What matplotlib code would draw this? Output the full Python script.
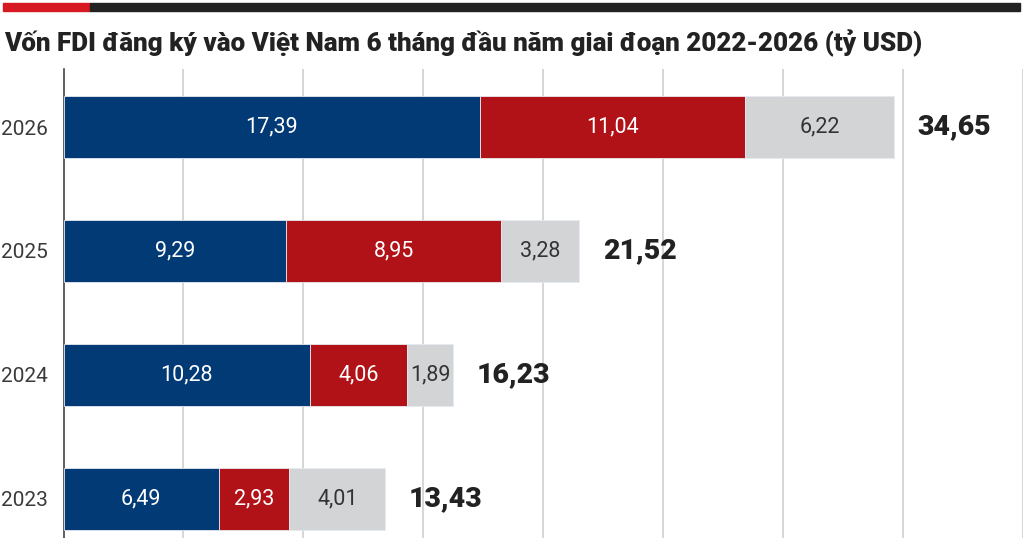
import matplotlib
matplotlib.use("Agg")
import matplotlib.pyplot as plt
from matplotlib.patches import Rectangle

# Dữ liệu (tỷ USD)
years = ["2026", "2025", "2024", "2023"]
new_capital = [17.39, 9.29, 10.28, 6.49]
adjusted_capital = [11.04, 8.95, 4.06, 2.93]
share_purchase = [6.22, 3.28, 1.89, 4.01]
totals = [34.65, 21.52, 16.23, 13.43]

title = "Vốn FDI đăng ký vào Việt Nam 6 tháng đầu năm giai đoạn 2022-2026 (tỷ USD)"

BLUE = "#023a75"
RED = "#b01218"
GREY = "#d3d4d6"
DARK = "#222222"

plt.rcParams["font.family"] = ["Roboto", "DejaVu Sans"]


def fmt(v):
    return f"{v:.2f}".replace(".", ",")


fig = plt.figure(figsize=(10.24, 5.38), dpi=100)

# thanh trang trí phía trên
fig.patches.append(Rectangle((3 / 1024, 1 - 11 / 538), 87 / 1024, 8 / 538,
                             transform=fig.transFigure, color="#d71a21", zorder=5))
fig.patches.append(Rectangle((90 / 1024, 1 - 11 / 538), 930 / 1024, 8 / 538,
                             transform=fig.transFigure, color=DARK, zorder=5))

fig.text(4 / 1024, 1 - 43 / 538, title, fontsize=18.7, fontweight="heavy",
         color=DARK, va="center", ha="left")

ax = fig.add_axes([63.5 / 1024, 0, (1023 - 63.5) / 1024, 1 - 69 / 538])

pos = [3, 2, 1, 0]
h = 0.5
segments = [(new_capital, BLUE, "white"),
            (adjusted_capital, RED, "white"),
            (share_purchase, GREY, "#333333")]

left = [0.0] * len(years)
for vals, col, tcol in segments:
    ax.barh(pos, vals, height=h, left=left, color=col, edgecolor="#e6e9f0",
            linewidth=0.6, zorder=3)
    for y, l, v in zip(pos, left, vals):
        ax.text(l + v / 2, y, fmt(v), ha="center", va="center",
                fontsize=15.5, color=tcol, zorder=4)
    left = [a + b for a, b in zip(left, vals)]

for y, t in zip(pos, totals):
    ax.annotate(fmt(t), (t, y), xytext=(17, 0), textcoords="offset points",
                ha="left", va="center", fontsize=20.5, fontweight="heavy",
                color=DARK)

ax.set_xlim(0, 40.02)
ax.set_ylim(-0.315, 3.468)
ax.set_yticks(pos)
ax.set_yticklabels(years, fontsize=15, color="#3a3a3a")
ax.set_xticks(range(5, 45, 5))
ax.set_xticklabels([])
ax.tick_params(axis="both", length=0)
ax.tick_params(axis="y", pad=11)
ax.xaxis.grid(True, color="#cfcfcf", linewidth=1.2, zorder=0)
ax.set_axisbelow(True)

for s in ["top", "right", "bottom"]:
    ax.spines[s].set_visible(False)
ax.spines["left"].set_color("#333333")
ax.spines["left"].set_linewidth(1.1)

fig.savefig("out.png", dpi=100)
